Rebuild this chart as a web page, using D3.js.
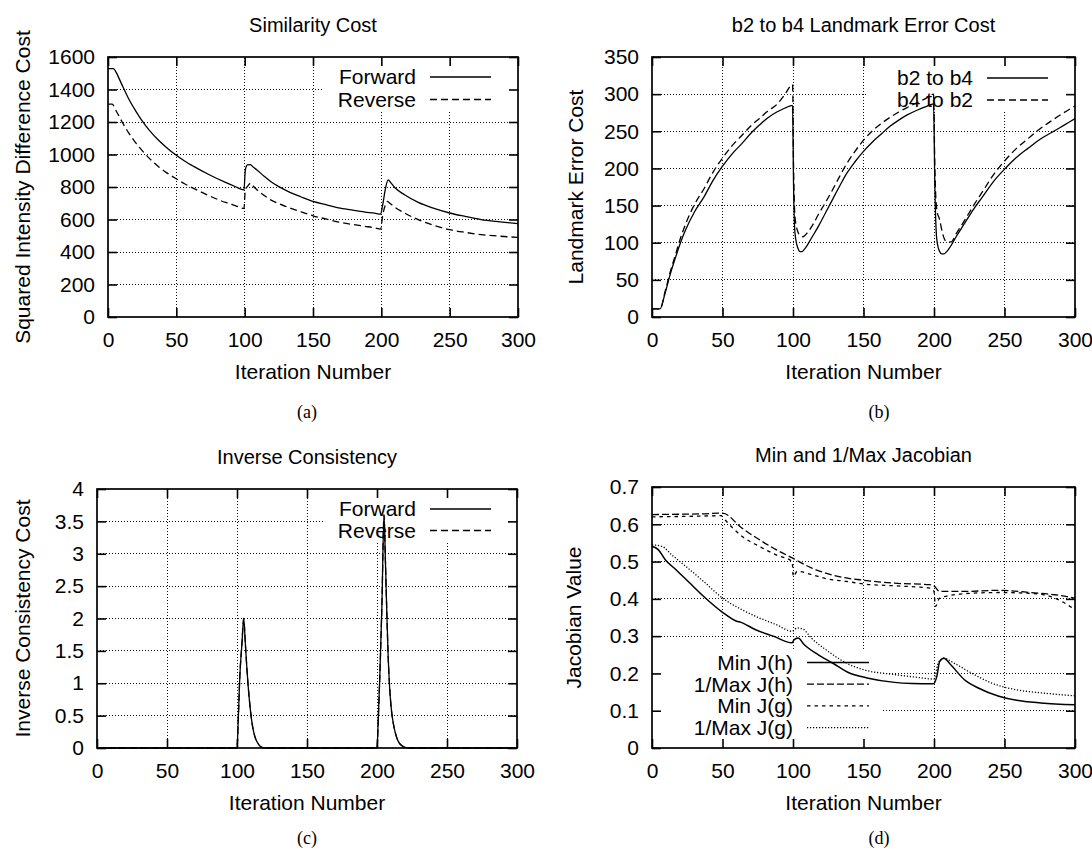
<!DOCTYPE html>
<html>
<head>
<meta charset="utf-8">
<script src="https://cdn.jsdelivr.net/npm/d3@7"></script>
<style>
  body { margin: 0; background: #fff; }
  svg { display: block; font-family: "Liberation Sans", Arial, Helvetica, sans-serif; }
</style>
</head>
<body>
<svg id="fig" width="1092" height="853"></svg>
<script>
// tick values
const iterTicks = [0, 50, 100, 150, 200, 250, 300];
const simTicks = [0, 200, 400, 600, 800, 1000, 1200, 1400, 1600];
const lmkTicks = [0, 50, 100, 150, 200, 250, 300, 350];
const icTicks = [0, 0.5, 1, 1.5, 2, 2.5, 3, 3.5, 4];
const jacTicks = [0, 0.1, 0.2, 0.3, 0.4, 0.5, 0.6, 0.7];

// (a) similarity cost  [iteration, cost]
const simForward = [[0,1528],[4,1528],[6,1505],[8,1470],[11,1415],[15,1345],[20,1272],[25,1207],[30,1152],[37,1088],[43,1042],[49,1001],[56,960],[63,925],[73,880],[86,828],[93,803],[99.5,782],
  [100.5,905],[102,936],[104,938],[106,925],[109,905],[114,868],[119,834],[125,802],[132,772],[141,740],[150,711],[160,690],[170,670],[180,656],[188,646],[195,639],[199.5,633],
  [201,690],[203,790],[205,844],[207,825],[210,795],[217,752],[227,705],[238,670],[250,640],[262,618],[273,599],[287,585],[300,574]];
const simReverse = [[0,1310],[3,1310],[6,1268],[10,1205],[15,1135],[20,1075],[25,1024],[31,970],[37,925],[43,887],[49,855],[56,820],[63,790],[73,750],[86,705],[93,686],[99.5,668],
  [100.5,783],[102,803],[104.5,823],[106,808],[109,783],[114,750],[119,721],[125,698],[132,674],[141,648],[150,623],[160,602],[170,582],[180,568],[188,558],[195,549],[199.5,541],
  [201,625],[203,690],[204.5,711],[206,701],[210,675],[217,640],[227,599],[238,565],[250,537],[262,520],[273,507],[287,497],[300,490]];

// (b) landmark error cost
const lmkB2toB4 = [[0,11],[5.7,11],[9.4,33],[13,58],[17,82],[20,99],[24,118],[30,141],[37,162],[43,183],[50,203],[57,220],[64,234],[70,247],[76,258],[82,268],[88.5,276],[94,281],[99.7,285],
  [100.4,176],[101.4,113],[103.4,93],[105,88],[106.4,88],[108,91],[109.6,95],[113,106],[118,122],[123,140],[128,158],[133,176],[138,193],[144,209],[150,223],[156,235],[163,247],[169,257],[175,265],[181,272],[187.5,278],[194,283],[199.7,287],
  [200.6,176],[202,104],[204,88],[205.5,85],[207,85],[209,88],[211,93],[216,109],[222,127],[228,145],[234.5,162],[242,182],[250.5,200],[258,214],[266.6,227],[275,239],[284,249],[292,258],[300,267]];
const lmkB4toB2 = [[0,11],[5.7,11],[9.4,35],[13,61],[17,86],[20,105],[24,126],[30,151],[37,173],[43,194],[50,214],[57,231],[64,245],[70,257],[76,267],[82,277],[88.5,286],[94,299],[99.7,313],
  [100.4,202],[101.4,135],[103.4,115],[105,110],[107,108],[110,113],[114,124],[118,138],[123,154],[128,171],[133,189],[138,206],[144,223],[150,238],[156,250],[163,261],[169,269],[175,276],[181,282],[187.5,288],[194,294],[199.7,300],
  [200.6,202],[202,144],[204,131],[206,113],[208.5,102],[212,101],[216,113],[222,131],[228,150],[234.5,169],[242,191],[250.5,211],[258,226],[266.6,240],[275,253],[284,265],[292,275],[300,284]];

// (c) inverse consistency cost
const icForward = [[0,0],[50,0],[100,0],[101,0.5],[102,1.1],[103.5,1.6],[104.8,2.0],[106,1.6],[107,1.25],[108,0.95],[109.5,0.6],[111,0.35],[113,0.16],[115,0.07],[117,0.02],[120,0],[150,0],
  [200,0],[201,0.5],[202,1.1],[203.5,2.2],[205,3.6],[206,2.9],[207,2.1],[208,1.4],[209,0.95],[210,0.65],[211.5,0.4],[213,0.24],[215,0.11],[218,0.03],[222,0],[260,0],[300,0]];
const icReverse = [[0,0],[50,0],[100,0],[101,0.5],[102,1.1],[103.5,1.6],[104.8,2.0],[106,1.6],[107,1.25],[108,0.95],[109.5,0.6],[111,0.35],[113,0.16],[115,0.07],[117,0.02],[120,0],[150,0],
  [200,0],[201,0.5],[202,1.1],[203.5,2.2],[205,3.6],[206,2.9],[207,2.1],[208,1.4],[209,0.95],[210,0.65],[211.5,0.4],[213,0.24],[215,0.11],[218,0.03],[222,0],[260,0],[300,0]];

// (d) min and 1/max jacobian
const minJh = [[0,0.541],[4.4,0.532],[9.4,0.505],[17,0.478],[26.6,0.443],[36.5,0.407],[50,0.364],[60,0.34],[63,0.337],[73.5,0.317],[86,0.30],[99.4,0.282],[100.7,0.29],[103.6,0.295],[108,0.277],[118,0.25],[128,0.228],[140,0.201],[152.5,0.188],[172,0.176],[184.5,0.173],[199.5,0.172],
  [202,0.192],[204,0.232],[207,0.241],[211.7,0.224],[221.6,0.183],[231.4,0.161],[246,0.139],[258.6,0.128],[275.8,0.121],[300,0.116]];
const invMaxJh = [[0,0.626],[20,0.627],[35,0.628],[50,0.63],[63.7,0.59],[76,0.559],[88,0.532],[99.4,0.51],[113,0.483],[125,0.467],[137.7,0.456],[150,0.45],[172,0.442],[197,0.438],[200,0.435],[204,0.42],[221.6,0.42],[246,0.423],[271,0.416],[285.7,0.411],[300,0.402]];
const minJg = [[0,0.62],[20,0.621],[35,0.622],[49,0.623],[51,0.615],[63.7,0.568],[76,0.541],[88,0.518],[99.4,0.5],[100.2,0.46],[103,0.474],[113,0.465],[125,0.453],[137.7,0.447],[150,0.44],[172,0.435],[197,0.429],[200,0.42],[201,0.38],[204,0.402],[221.6,0.414],[246,0.417],[271,0.414],[285.7,0.402],[300,0.371]];
const invMaxJg = [[0,0.545],[7,0.541],[14,0.518],[24,0.487],[36.5,0.447],[50,0.402],[63.7,0.371],[76,0.349],[88,0.331],[99.4,0.313],[103,0.322],[107,0.319],[113,0.295],[125,0.259],[137.7,0.228],[150,0.21],[172,0.197],[187,0.19],[200,0.185],[203,0.228],[206.8,0.241],[214,0.228],[226.6,0.201],[241,0.174],[258.6,0.156],[275.8,0.148],[300,0.14]];

const svg = d3.select("#fig");
svg.append("rect").attr("width", 1092).attr("height", 853).attr("fill", "#fff");

const panels = [
  {
    left: 108, right: 518, top: 57, bottom: 317, yMax: 1600, yTicks: simTicks,
    title: "Similarity Cost", yLabel: "Squared Intensity Difference Cost", yLabelX: 23,
    caption: "(a)", captionX: 307, captionY: 413,
    keyBox: [323, 57, 518, 110], keyX: 416, keyY: 77, keyDy: 22.5, keyLen: 61,
    series: [
      { name: "Forward", data: simForward, dash: null },
      { name: "Reverse", data: simReverse, dash: "7,4" }
    ]
  },
  {
    left: 652, right: 1075, top: 57, bottom: 317, yMax: 350, yTicks: lmkTicks,
    title: "b2 to b4 Landmark Error Cost", yLabel: "Landmark Error Cost", yLabelX: 576,
    caption: "(b)", captionX: 879, captionY: 413,
    keyBox: [867, 57, 1075, 110], keyX: 973, keyY: 78, keyDy: 22, keyLen: 61,
    series: [
      { name: "b2 to b4", data: lmkB2toB4, dash: null },
      { name: "b4 to b2", data: lmkB4toB2, dash: "7,4" }
    ]
  },
  {
    left: 97, right: 517, top: 489, bottom: 748, yMax: 4, yTicks: icTicks,
    title: "Inverse Consistency", yLabel: "Inverse Consistency Cost", yLabelX: 23,
    caption: "(c)", captionX: 307, captionY: 839,
    keyBox: [325, 489, 517, 542], keyX: 416, keyY: 509, keyDy: 21.5, keyLen: 61,
    series: [
      { name: "Reverse", data: icReverse, dash: "7,4", key: 1 },
      { name: "Forward", data: icForward, dash: null, key: 0 }
    ]
  },
  {
    left: 652, right: 1075, top: 487, bottom: 748, yMax: 0.7, yTicks: jacTicks,
    title: "Min and 1/Max Jacobian", yLabel: "Jacobian Value", yLabelX: 574,
    caption: "(d)", captionX: 879, captionY: 839,
    keyBox: [652, 650, 882, 748], keyX: 793, keyY: 662.5, keyDy: 21.7, keyLen: 62,
    series: [
      { name: "Min J(h)", data: minJh, dash: null, width: 1.5 },
      { name: "1/Max J(h)", data: invMaxJh, dash: "7,3" },
      { name: "Min J(g)", data: minJg, dash: "3.5,4" },
      { name: "1/Max J(g)", data: invMaxJg, dash: "1.2,1.8" }
    ]
  }
];

function drawPanel(p) {
  const g = svg.append("g");
  const x = d3.scaleLinear().domain([0, 300]).range([p.left, p.right]);
  const y = d3.scaleLinear().domain([0, p.yMax]).range([p.bottom, p.top]);
  const tick = 9;

  // dotted grid
  const grid = g.append("g").attr("stroke", "#111").attr("stroke-width", 1)
    .attr("stroke-dasharray", "1,2").attr("shape-rendering", "crispEdges");
  grid.selectAll(".gx").data(iterTicks.slice(1, -1)).join("line")
    .attr("x1", d => x(d)).attr("x2", d => x(d)).attr("y1", p.bottom).attr("y2", p.top);
  grid.selectAll(".gy").data(p.yTicks.slice(1, -1)).join("line")
    .attr("y1", d => y(d)).attr("y2", d => y(d)).attr("x1", p.left).attr("x2", p.right);

  // key area hides the grid
  const kb = p.keyBox;
  g.append("rect").attr("x", kb[0]).attr("y", kb[1]).attr("width", kb[2] - kb[0]).attr("height", kb[3] - kb[1])
    .attr("fill", "#fff");

  // ticks on all four sides, labels on bottom/left
  const fmt = d => String(d);
  const axB = g.append("g").attr("transform", `translate(0,${p.bottom})`)
    .call(d3.axisBottom(x).tickValues(iterTicks).tickSizeInner(-tick).tickSizeOuter(0).tickPadding(15).tickFormat(fmt));
  const axT = g.append("g").attr("transform", `translate(0,${p.top})`)
    .call(d3.axisTop(x).tickValues(iterTicks).tickSizeInner(-tick).tickSizeOuter(0).tickFormat(""));
  const axL = g.append("g").attr("transform", `translate(${p.left},0)`)
    .call(d3.axisLeft(y).tickValues(p.yTicks).tickSizeInner(-tick).tickSizeOuter(0).tickPadding(13).tickFormat(fmt));
  const axR = g.append("g").attr("transform", `translate(${p.right},0)`)
    .call(d3.axisRight(y).tickValues(p.yTicks).tickSizeInner(-tick).tickSizeOuter(0).tickFormat(""));
  [axB, axT, axL, axR].forEach(a => {
    a.select(".domain").remove();
    a.selectAll("line").attr("stroke", "#000").attr("stroke-width", 1.6);
    a.selectAll("text").attr("font-family", null).attr("font-size", 21).attr("fill", "#000");
  });

  // border
  g.append("rect").attr("x", p.left).attr("y", p.top)
    .attr("width", p.right - p.left).attr("height", p.bottom - p.top)
    .attr("fill", "none").attr("stroke", "#000").attr("stroke-width", 1.7);

  // curves
  const line = d3.line().x(d => x(d[0])).y(d => y(d[1])).curve(d3.curveMonotoneX);
  p.series.forEach(s => {
    g.append("path").attr("d", line(s.data)).attr("fill", "none")
      .attr("stroke", "#000").attr("stroke-width", s.width || 1.3)
      .attr("stroke-dasharray", s.dash);
  });

  // key
  const keyed = p.series.slice().sort((a, b) => (a.key ?? 0) - (b.key ?? 0));
  keyed.forEach((s, i) => {
    const ky = p.keyY + i * p.keyDy;
    g.append("text").attr("x", p.keyX).attr("y", ky).attr("dy", "0.35em")
      .attr("text-anchor", "end").attr("font-size", 21).text(s.name);
    g.append("line").attr("x1", p.keyX + 14).attr("x2", p.keyX + 14 + p.keyLen)
      .attr("y1", ky).attr("y2", ky).attr("stroke", "#000")
      .attr("stroke-width", s.width || 1.3).attr("stroke-dasharray", s.dash);
  });

  const cx = (p.left + p.right) / 2;
  g.append("text").attr("x", cx).attr("y", p.top - 32).attr("dy", "0.35em")
    .attr("text-anchor", "middle").attr("font-size", 20).text(p.title);
  g.append("text").attr("x", cx).attr("y", p.bottom + 55).attr("dy", "0.35em")
    .attr("text-anchor", "middle").attr("font-size", 21).text("Iteration Number");
  g.append("text")
    .attr("transform", `translate(${p.yLabelX},${(p.top + p.bottom) / 2}) rotate(-90)`)
    .attr("dy", "0.35em").attr("text-anchor", "middle").attr("font-size", 21).text(p.yLabel);
  g.append("text").attr("x", p.captionX).attr("y", p.captionY).attr("dy", "0.3em")
    .attr("text-anchor", "middle").attr("font-family", "'Liberation Serif', 'Times New Roman', serif")
    .attr("font-size", 18).text(p.caption);
}

panels.forEach(drawPanel);
</script>
</body>
</html>
